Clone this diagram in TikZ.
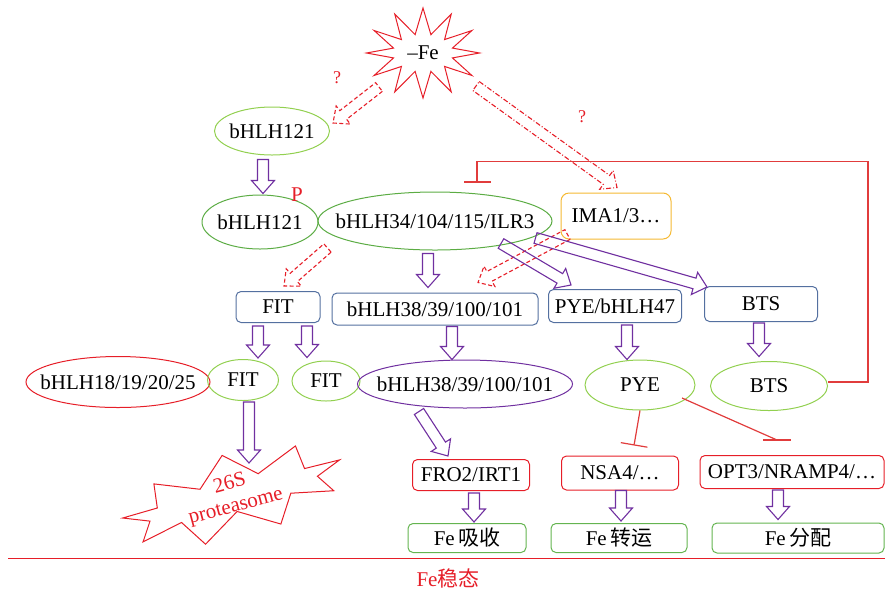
\documentclass[tikz,border=0pt]{standalone}
\usepackage{fontspec}
\setmainfont{Liberation Serif}
\newfontfamily\cjk{Noto Sans CJK SC}
\usepackage{tikz}
\usetikzlibrary{shapes.geometric,shapes.symbols,arrows.meta,calc}
\definecolor{lgreen}{RGB}{146,208,80}
\definecolor{dgreen}{RGB}{92,172,68}
\definecolor{bgreen}{RGB}{100,180,80}
\definecolor{boxblue}{RGB}{84,112,160}
\definecolor{mypurple}{RGB}{112,48,160}
\definecolor{myred}{RGB}{230,30,40}
\definecolor{inhred}{RGB}{225,60,60}
\definecolor{imaorange}{RGB}{245,185,50}
\newcommand{\ellabel}[1]{\makebox[0pt]{#1}}
\newcommand{\flatlabel}[1]{\raisebox{-5pt}[0pt][0pt]{\makebox[0pt]{\begin{tabular}[c]{@{}c@{}}#1\end{tabular}}}}
\newcommand{\hollowarrow}[3][]{%
  \coordinate (ha-s) at (#2);
  \coordinate (ha-e) at (#3);
  \coordinate (ha-b) at ($(ha-e)!13pt!(ha-s)$);
  \draw[#1] ($(ha-s)!5.5pt!90:(ha-e)$) -- ($(ha-b)!5.5pt!90:(ha-e)$)
    -- ($(ha-b)!11.5pt!90:(ha-e)$) -- (ha-e)
    -- ($(ha-b)!11.5pt!-90:(ha-e)$) -- ($(ha-b)!5.5pt!-90:(ha-e)$)
    -- ($(ha-s)!5.5pt!-90:(ha-e)$) -- cycle;
}

\begin{document}
\begin{tikzpicture}[x=1pt,y=-1pt,
  every node/.style={font=\fontsize{21}{25}\selectfont},
  ell/.style={ellipse,draw,line width=1pt,inner sep=0pt},
  rbox/.style={rectangle,rounded corners=5pt,draw,line width=1pt,inner sep=0pt},
  fwd/.style={draw=mypurple,line width=1.1pt},
  unk/.style={draw=myred,line width=1.1pt,dash pattern=on 4pt off 2.5pt},
  unkdot/.style={draw=myred,line width=1.1pt,dash pattern=on 5pt off 2pt on 1pt off 2pt},
  inhib/.style={draw=inhred,line width=1.2pt,-{Bar[width=27pt]}}]

  \useasboundingbox (0,0) rectangle (885,590);

  % signal
  \node (fe) [starburst,draw=myred,line width=1pt,starburst points=12,starburst point height=26pt,
    random starburst=0,minimum width=113pt,minimum height=90pt] at (423,53) {–Fe};
  \node (q1) [text=myred,font=\fontsize{18}{20}\selectfont] at (337,78) {?};
  \node (q2) [text=myred,font=\fontsize{18}{20}\selectfont] at (582,117) {?};

  % bHLH121 and its partners
  \node (b121a) [ell,draw=lgreen,minimum width=115pt,minimum height=48pt] at (272,131) {\ellabel{bHLH121}};
  \node (b121b) [ell,draw=dgreen,minimum width=116pt,minimum height=54pt] at (260,222) {\ellabel{bHLH121}};
  \node (phos) [text=myred] at (297,195) {P};
  \node (b34) [ell,draw=dgreen,minimum width=234pt,minimum height=58pt] at (435,221) {\ellabel{bHLH34/104/115/ILR3}};
  \node (ima) [rbox,draw=imaorange,rounded corners=8pt,minimum width=110pt,minimum height=46pt] at (616,216) {IMA1/3…};

  % transcription targets
  \node (fitb) [rbox,draw=boxblue,minimum width=84pt,minimum height=31pt] at (278,307) {FIT};
  \node (b38b) [rbox,draw=boxblue,minimum width=206pt,minimum height=32pt] at (435,309) {bHLH38/39/100/101};
  \node (pyeb) [rbox,draw=boxblue,minimum width=133pt,minimum height=33pt] at (615,306) {PYE/bHLH47};
  \node (btsb) [rbox,draw=boxblue,minimum width=113pt,minimum height=35pt] at (761,304) {BTS};

  % proteins
  \node (b18) [ell,draw=myred,minimum width=184pt,minimum height=51pt] at (118,382) {\ellabel{bHLH18/19/20/25}};
  \node (fit1) [ell,draw=lgreen,minimum width=71pt,minimum height=41pt] at (243,380) {\ellabel{FIT}};
  \node (fit2) [ell,draw=lgreen,minimum width=68pt,minimum height=40pt] at (326,381) {\ellabel{FIT}};
  \node (b38e) [ell,draw=mypurple,minimum width=215pt,minimum height=48pt] at (465,384) {\ellabel{bHLH38/39/100/101}};
  \node (pyee) [ell,draw=lgreen,minimum width=110pt,minimum height=50pt] at (640,385) {\ellabel{PYE}};
  \node (btse) [ell,draw=lgreen,minimum width=117pt,minimum height=49pt] at (769,386) {\ellabel{BTS}};
  \node (p26) [starburst,draw=myred,text=myred,line width=1pt,rotate=15,starburst points=9,
    starburst point height=26pt,random starburst=0,minimum width=228pt,minimum height=84pt,
    font=\fontsize{21}{23}\selectfont] at (233,496) {\flatlabel{26S\\proteasome}};

  % downstream genes
  \node (fro) [rbox,draw=myred,minimum width=117pt,minimum height=31pt] at (471,475) {FRO2/IRT1};
  \node (nsa) [rbox,draw=myred,minimum width=117pt,minimum height=34pt] at (620,473) {NSA4/…};
  \node (opt) [rbox,draw=myred,minimum width=184pt,minimum height=33pt] at (792,472) {OPT3/NRAMP4/…};
  \node (upt) [rbox,draw=bgreen,minimum width=118pt,minimum height=29pt] at (467,538) {Fe\,{\cjk 吸收}};
  \node (trn) [rbox,draw=bgreen,minimum width=136pt,minimum height=29pt] at (619,538) {Fe\,{\cjk 转运}};
  \node (dis) [rbox,draw=bgreen,minimum width=172pt,minimum height=30pt] at (798,538) {Fe\,{\cjk 分配}};

  \draw[myred,line width=1pt] (8,558) -- (885,558);
  \node (homeo) [text=myred] at (448,578) {Fe{\cjk 稳态}};

  % hollow arrows
  \hollowarrow[unk]{$(fe.center)+(-44,34)$}{$(b121a.east)+(3,-8)$}
  \hollowarrow[unkdot]{$(fe.center)+(53,33)$}{$(ima.north)+(1,-5)$}
  \hollowarrow[fwd]{$(b121a.south)+(-9,4)$}{$(b121b.north)+(3,-1)$}
  \hollowarrow[unk]{$(b34.west)+(10,27)$}{$(fitb.north)+(6,-5)$}
  \hollowarrow[unk]{$(ima.south west)+(7,-5)$}{$(b38b.north)+(43,-10)$}
  \hollowarrow[fwd]{$(b34.south)+(-7,3)$}{$(b38b.north)+(-7,-5)$}
  \hollowarrow[fwd]{$(b34.south)+(66,-7)$}{$(pyeb.north west)+(23,-4)$}
  \hollowarrow[fwd]{$(b34.east)+(-17,17)$}{$(btsb.north west)+(3,1)$}
  \hollowarrow[fwd]{$(fitb.south)+(-20,3)$}{$(fit1.north)+(15,-1)$}
  \hollowarrow[fwd]{$(fitb.south)+(29,3)$}{$(fit2.north)+(-19,-3)$}
  \hollowarrow[fwd]{$(b38b.south)+(17,1)$}{$(b38e.north)+(-13,0)$}
  \hollowarrow[fwd]{$(pyeb.south)+(12,2)$}{$(pyee.north)+(-13,0)$}
  \hollowarrow[fwd]{$(btsb.south)+(-2,1)$}{$(btse.north)+(-10,-4.5)$}
  \hollowarrow[fwd]{$(fit1.south)+(6,1)$}{$(fit1.south)+(6,62)$}
  \hollowarrow[fwd]{$(b38e.south)+(-46,3)$}{$(fro.north)+(-23,-3)$}
  \hollowarrow[fwd]{$(fro.south)+(3,2)$}{$(upt.north)+(7,-1)$}
  \hollowarrow[fwd]{$(nsa.south)+(1,0)$}{$(trn.north)+(2,-2)$}
  \hollowarrow[fwd]{$(opt.south)+(-14,1)$}{$(dis.north)+(-20,-3)$}

  % repression
  \coordinate (fbbar) at ($(b34.north)+(42,-9)$);
  \draw[inhib] ($(btse.east)+(0,-4)$) -- ++(40,0) |- ($(fbbar)+(0,-21)$) -- (fbbar);
  \draw[inhib] (pyee.south) -- ($(nsa.north)+(14,-10)$);
  \coordinate (optbar) at ($(opt.north)+(-15,-15)$);
  \draw[inhred,line width=1.2pt] ($(pyee.center)+(42,13)$) -- (optbar);
  \draw[inhred,line width=1.2pt] ([xshift=-14pt]optbar) -- ([xshift=14pt]optbar);
\end{tikzpicture}
\end{document}
